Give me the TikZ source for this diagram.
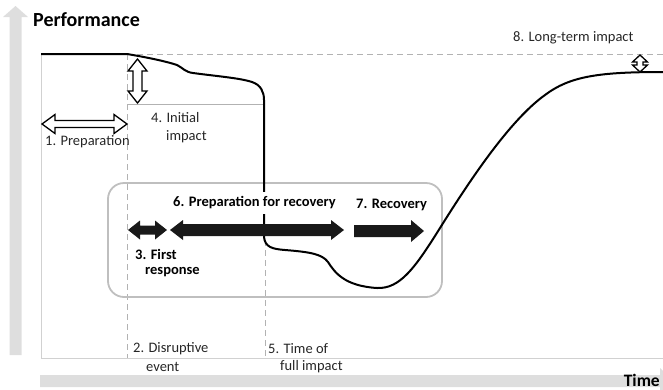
\documentclass[tikz,border=0pt]{standalone}
\usepackage{fontspec}
\setmainfont{Carlito}
\begin{document}
\begin{tikzpicture}[x=1pt,y=-1pt,
  lbl/.style={font=\fontsize{14.5}{17}\selectfont, inner sep=0pt, anchor=west, text=black!85},
  blbl/.style={lbl, font=\fontsize{14.5}{17}\selectfont\bfseries, text=black},
  axisfill/.style={fill=black!13, draw=none},
  frameline/.style={draw=black!18, line width=0.9pt},
  dashline/.style={draw=black!30, line width=0.8pt, dash pattern=on 6pt off 4pt},
  guide/.style={draw=black!30, line width=0.8pt},
  whitearrow/.style={draw=black, fill=white, line width=1.3pt, line join=miter},
  blackarrow/.style={draw=none, fill=black!90},
  perf/.style={draw=black, line width=2pt, line join=round}]
\newcommand{\harrowdbl}[7]{%
 \path[#1] (#2,#4) -- ({#2+#7},{#4-#6}) -- ({#2+#7},{#4-#5}) -- ({#3-#7},{#4-#5}) -- ({#3-#7},{#4-#6}) -- (#3,#4) -- ({#3-#7},{#4+#6}) -- ({#3-#7},{#4+#5}) -- ({#2+#7},{#4+#5}) -- ({#2+#7},{#4+#6}) -- cycle;}
\newcommand{\varrowdbl}[7]{%
 \path[#1] (#4,#2) -- ({#4-#6},{#2+#7}) -- ({#4-#5},{#2+#7}) -- ({#4-#5},{#3-#7}) -- ({#4-#6},{#3-#7}) -- (#4,#3) -- ({#4+#6},{#3-#7}) -- ({#4+#5},{#3-#7}) -- ({#4+#5},{#2+#7}) -- ({#4+#6},{#2+#7}) -- cycle;}
\newcommand{\harrowsgl}[7]{%
 \path[#1] (#2,{#4-#5}) -- ({#3-#7},{#4-#5}) -- ({#3-#7},{#4-#6}) -- (#3,#4) -- ({#3-#7},{#4+#6}) -- ({#3-#7},{#4+#5}) -- (#2,{#4+#5}) -- cycle;}
\useasboundingbox (0,0) rectangle (663,389);
\clip (0,0) rectangle (663,389);
% axes
\path[axisfill] (9.5,355) -- (9.5,17) -- (3,17) -- (15.5,6) -- (28,17) -- (21.5,17) -- (21.5,355) -- cycle;
\path[axisfill] (40,375) -- (660,375) -- (660,368) -- (673,381) -- (660,394) -- (660,387) -- (40,387) -- cycle;
% frame
\draw[frameline] (41,54) -- (41,358) -- (663,358);
% guides
\draw[dashline] (127,54) -- (663,54);
\draw[dashline] (127,54) -- (127,358);
\draw[dashline] (265,240) -- (265,358);
\draw[guide] (127,104) -- (264,104);
% rounded box
\draw[draw=black!25, line width=1.8pt, rounded corners=16pt] (108,183) rectangle (442,297);
% performance curve
\draw[perf] (41,54) -- (127,54)
  .. controls (145,57) and (165,61) .. (177,65)
  .. controls (183,68) and (185,72) .. (193,73)
  .. controls (215,76) and (240,78) .. (252,82)
  .. controls (261,85) and (264,92) .. (264,100) -- (264,237)
  .. controls (265,247) and (272,249) .. (285,250)
  .. controls (310,252) and (322,254) .. (328,262)
  .. controls (335,273) and (345,286) .. (377,288)
  .. controls (400,289) and (415,268) .. (440,228)
  .. controls (470,180) and (510,120) .. (545,95)
  .. controls (570,76) and (600,72) .. (663,72);
% white arrows
\harrowdbl{whitearrow}{42}{127}{124}{3.5}{9.5}{13}
\varrowdbl{whitearrow}{59}{103}{137.5}{4.5}{9.5}{12}
\varrowdbl{whitearrow}{55}{72}{640}{3}{7.5}{7}
% black arrows
\harrowdbl{blackarrow}{128}{167}{230}{4.5}{9.5}{12}
\harrowdbl{blackarrow}{170}{344}{230}{6}{10}{13}
\harrowsgl{blackarrow}{354}{424}{231}{6}{11}{13}
% labels
\node[blbl, font=\fontsize{20}{24}\selectfont\bfseries] (perfl) at (33,20) {Performance};
\node[blbl, anchor=base east, font=\fontsize{17.5}{21}\selectfont\bfseries] (timel) at (660,386) {Time};
\node[lbl] (l8) at (513,38) {8. Long-term impact};
\node[lbl] (l1) at (45,142) {1. Preparation};
\node[lbl] (l4a) at (151,118) {4. Initial};
\node[lbl] (l4b) at (166,137) {impact};
\node[lbl] (l2a) at (133,349) {2. Disruptive};
\node[lbl] (l2b) at (146,367) {event};
\node[lbl] (l5a) at (268,349) {5. Time of};
\node[lbl] (l5b) at (280,367) {full impact};
\node[blbl] (l3a) at (135,254) {3. First};
\node[blbl] (l3b) at (145,272) {response};
\node[blbl, fill=white, inner xsep=1pt, inner ysep=5pt] (l6) at (172,203) {6. Preparation for recovery};
\node[blbl] (l7) at (356,205) {7. Recovery};
\end{tikzpicture}
\end{document}
